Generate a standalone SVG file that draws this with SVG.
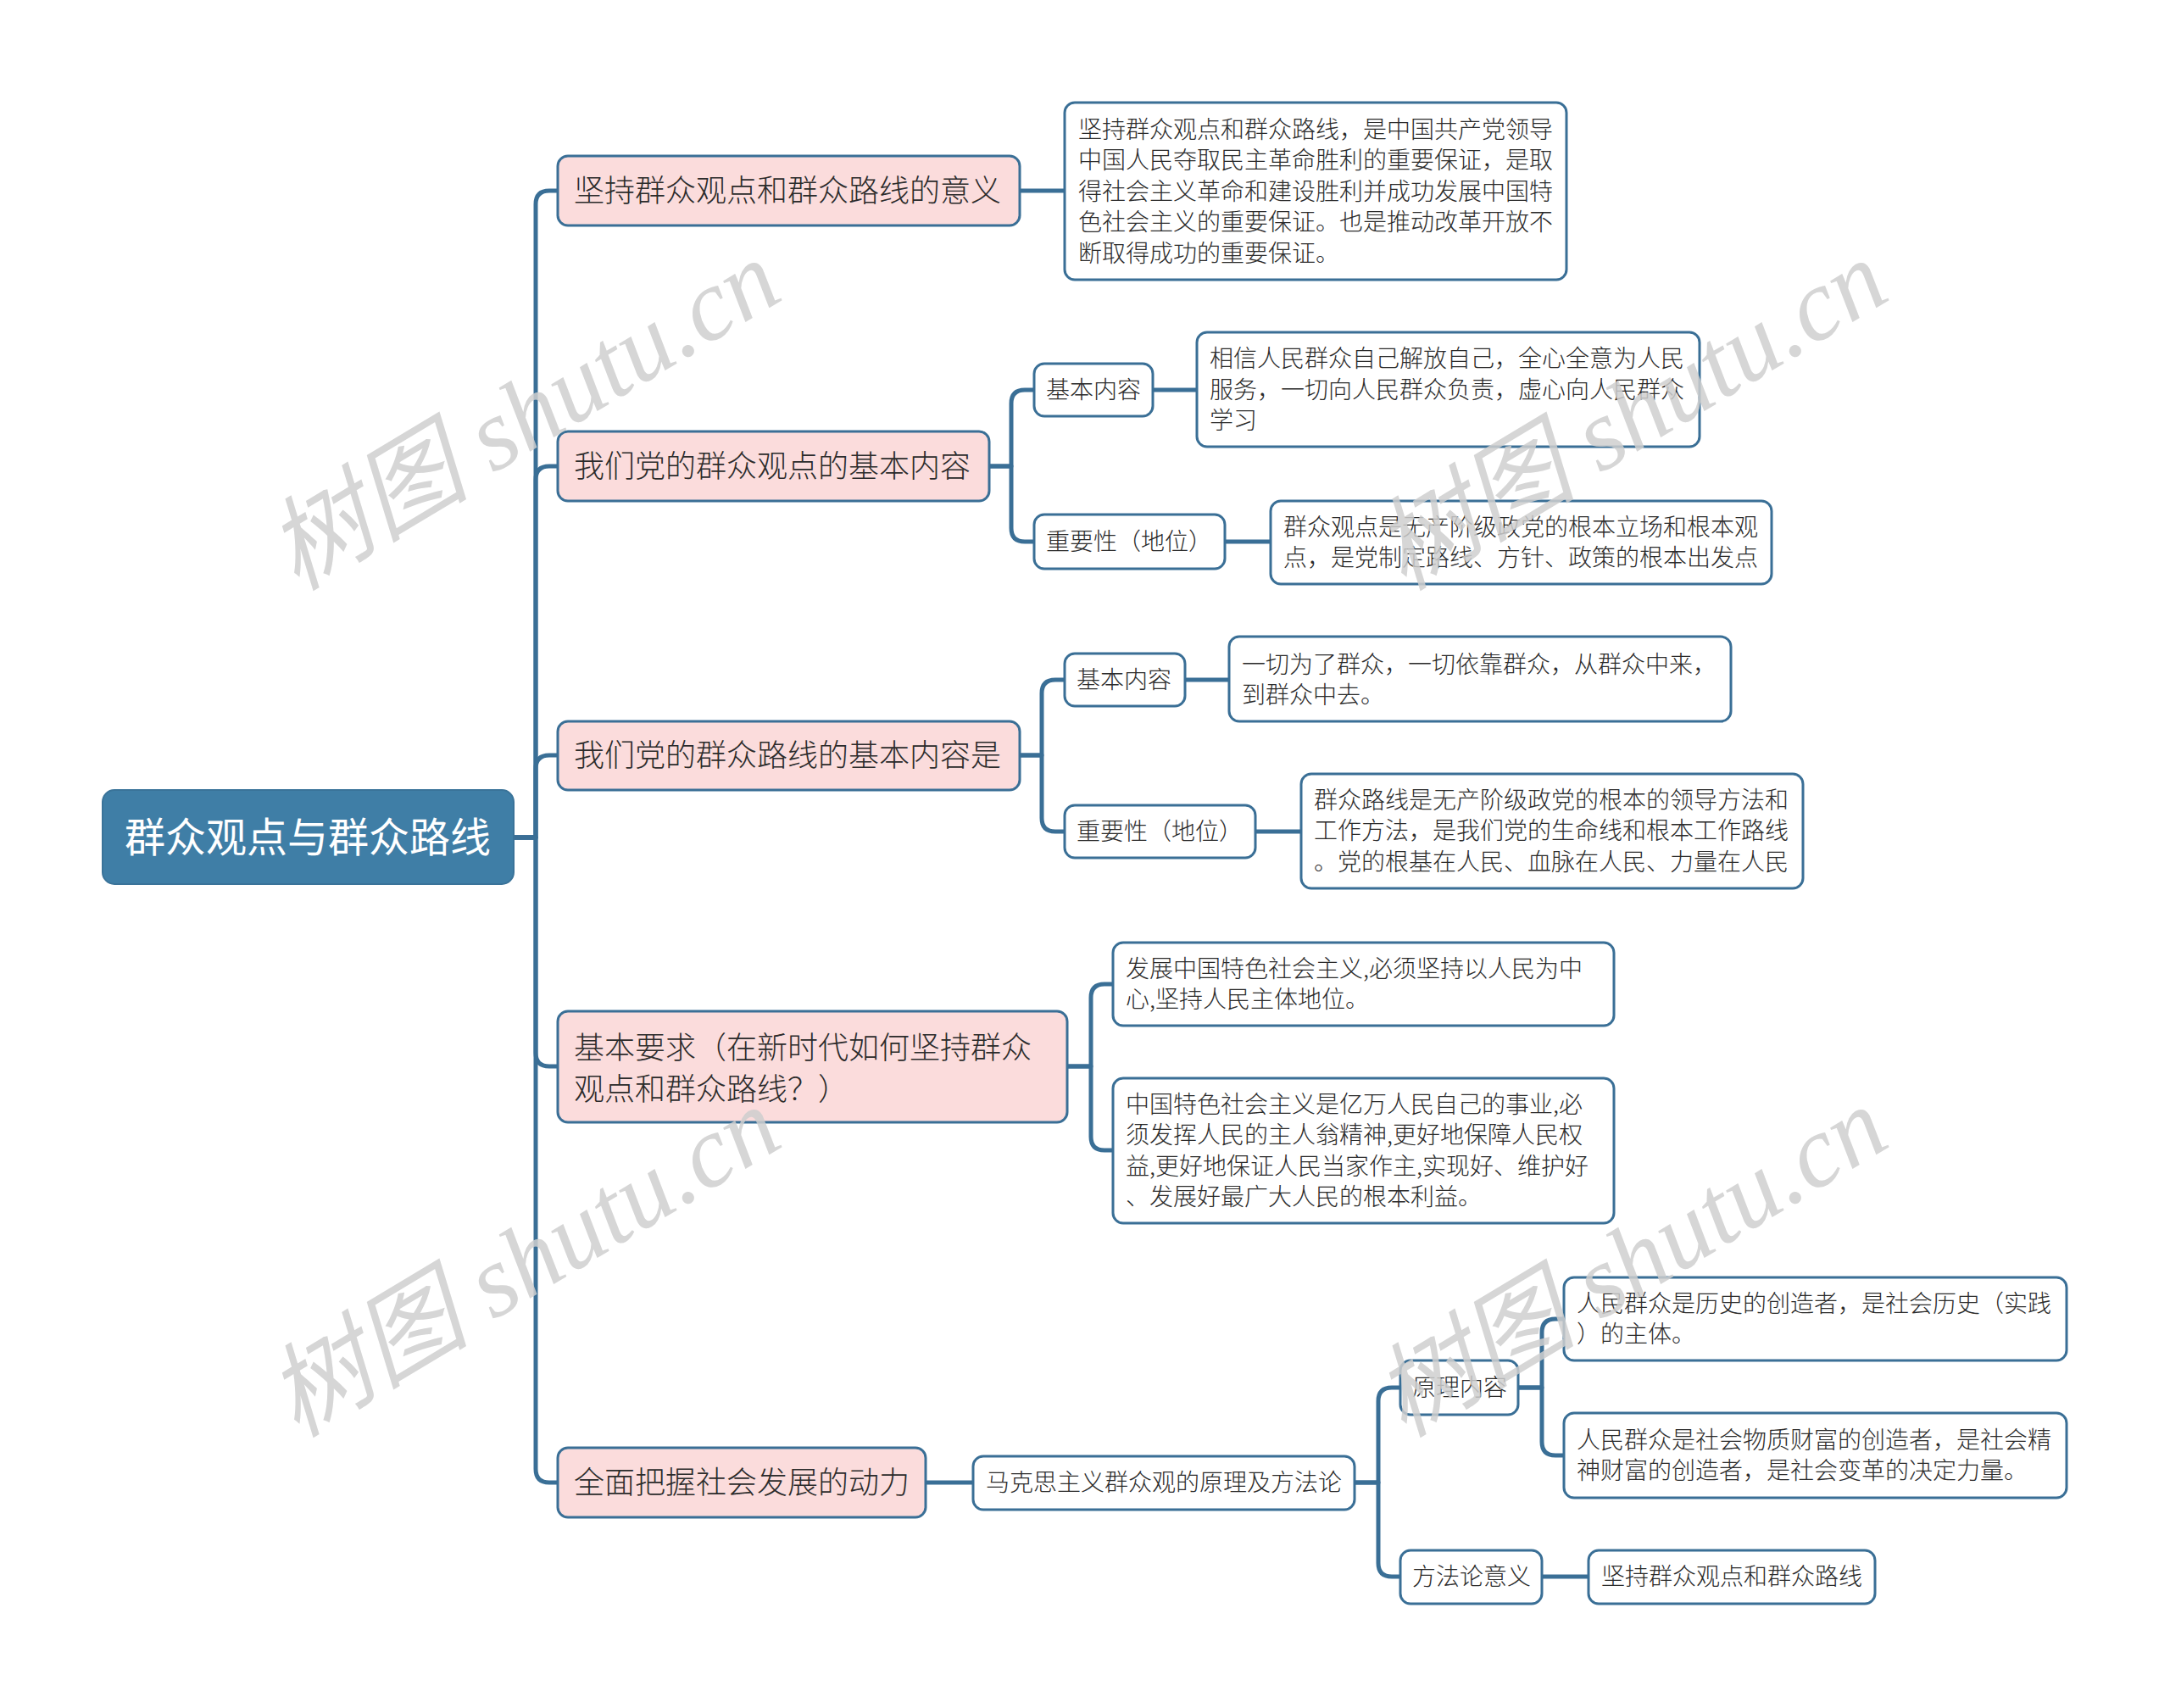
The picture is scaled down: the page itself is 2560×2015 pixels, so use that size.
<svg xmlns="http://www.w3.org/2000/svg" width="2560" height="2015" viewBox="0 0 2560 2015">
<style>
.t{font-family:"Noto Sans CJK SC","Liberation Sans",sans-serif;font-weight:300;fill:#2b2b2b}
.root{fill:#3f7ea6;stroke:#3a7399;stroke-width:2}
.rt{font-size:48px;fill:#ffffff;font-weight:400}
.l1{fill:#fbdcdc;stroke:#3a6f96;stroke-width:3}
.l1t{font-size:36px}
.bx{fill:#ffffff;stroke:#3a6f96;stroke-width:3}
.st{font-size:28px}
.c{fill:none;stroke:#3a6f96;stroke-width:5;stroke-linecap:round;stroke-linejoin:round}
.wm{font-family:"Liberation Serif","Noto Sans CJK SC",serif;font-style:italic;font-size:120px;fill:#cfcfcf;opacity:0.85}
</style>
<rect width="2560" height="2015" fill="#ffffff"/>
<g id="connectors">
<path class="c" d="M606 988 H632 V241 Q632 225 648 225 H658"/>
<path class="c" d="M606 988 H632 V566 Q632 550 648 550 H658"/>
<path class="c" d="M606 988 H632 V907 Q632 891 648 891 H658"/>
<path class="c" d="M606 988 H632 V1242 Q632 1258 648 1258 H658"/>
<path class="c" d="M606 988 H632 V1733 Q632 1749 648 1749 H658"/>
<path class="c" d="M1203 225 H1256"/>
<path class="c" d="M1167 550 H1193 V476 Q1193 460 1209 460 H1220"/>
<path class="c" d="M1167 550 H1193 V623 Q1193 639 1209 639 H1220"/>
<path class="c" d="M1360 460 H1412"/>
<path class="c" d="M1445 639 H1499"/>
<path class="c" d="M1203 891 H1229 V818 Q1229 802 1245 802 H1256"/>
<path class="c" d="M1203 891 H1229 V965 Q1229 981 1245 981 H1256"/>
<path class="c" d="M1398 802 H1450"/>
<path class="c" d="M1481 981 H1535"/>
<path class="c" d="M1259 1258 H1287 V1177 Q1287 1161 1303 1161 H1313"/>
<path class="c" d="M1259 1258 H1287 V1341 Q1287 1357 1303 1357 H1313"/>
<path class="c" d="M1092 1749 H1148"/>
<path class="c" d="M1598 1749 H1626 V1653 Q1626 1637 1642 1637 H1652"/>
<path class="c" d="M1598 1749 H1626 V1844 Q1626 1860 1642 1860 H1652"/>
<path class="c" d="M1791 1637 H1819 V1572 Q1819 1556 1835 1556 H1845"/>
<path class="c" d="M1791 1637 H1819 V1701 Q1819 1717 1835 1717 H1845"/>
<path class="c" d="M1819 1860 H1874"/>
</g>
<g id="root"><rect class="root" x="121" y="932" width="485" height="111" rx="14"/><text class="t rt" x="363" y="1005" text-anchor="middle">群众观点与群众路线</text></g>
<g id="n1"><rect class="l1" x="658" y="184" width="545" height="82" rx="12"/><text class="t l1t" x="677" y="238">坚持群众观点和群众路线的意义</text></g>
<g id="n1a"><rect class="bx" x="1256" y="121" width="592" height="209" rx="12"/><text class="t st"><tspan x="1272" y="163">坚持群众观点和群众路线，是中国共产党领导</tspan><tspan x="1272" y="199">中国人民夺取民主革命胜利的重要保证，是取</tspan><tspan x="1272" y="236">得社会主义革命和建设胜利并成功发展中国特</tspan><tspan x="1272" y="272">色社会主义的重要保证。也是推动改革开放不</tspan><tspan x="1272" y="309">断取得成功的重要保证。</tspan></text></g>
<g id="n2"><rect class="l1" x="658" y="509" width="509" height="82" rx="12"/><text class="t l1t" x="677" y="563">我们党的群众观点的基本内容</text></g>
<g id="n2a"><rect class="bx" x="1220" y="429" width="140" height="62" rx="12"/><text class="t st" x="1234" y="470">基本内容</text></g>
<g id="n2a1"><rect class="bx" x="1412" y="392" width="593" height="135" rx="12"/><text class="t st"><tspan x="1427" y="433">相信人民群众自己解放自己，全心全意为人民</tspan><tspan x="1427" y="470">服务，一切向人民群众负责，虚心向人民群众</tspan><tspan x="1427" y="506">学习</tspan></text></g>
<g id="n2b"><rect class="bx" x="1220" y="607" width="225" height="64" rx="12"/><text class="t st" x="1234" y="649">重要性（地位）</text></g>
<g id="n2b1"><rect class="bx" x="1499" y="591" width="591" height="98" rx="12"/><text class="t st"><tspan x="1514" y="632">群众观点是无产阶级政党的根本立场和根本观</tspan><tspan x="1514" y="668">点，是党制定路线、方针、政策的根本出发点</tspan></text></g>
<g id="n3"><rect class="l1" x="658" y="851" width="545" height="81" rx="12"/><text class="t l1t" x="677" y="904">我们党的群众路线的基本内容是</text></g>
<g id="n3a"><rect class="bx" x="1256" y="771" width="142" height="62" rx="12"/><text class="t st" x="1270" y="812">基本内容</text></g>
<g id="n3a1"><rect class="bx" x="1450" y="751" width="592" height="100" rx="12"/><text class="t st"><tspan x="1465" y="794">一切为了群众，一切依靠群众，从群众中来，</tspan><tspan x="1465" y="830">到群众中去。</tspan></text></g>
<g id="n3b"><rect class="bx" x="1256" y="950" width="225" height="62" rx="12"/><text class="t st" x="1270" y="991">重要性（地位）</text></g>
<g id="n3b1"><rect class="bx" x="1535" y="913" width="592" height="135" rx="12"/><text class="t st"><tspan x="1550" y="954">群众路线是无产阶级政党的根本的领导方法和</tspan><tspan x="1550" y="990">工作方法，是我们党的生命线和根本工作路线</tspan><tspan x="1550" y="1027">。党的根基在人民、血脉在人民、力量在人民</tspan></text></g>
<g id="n4"><rect class="l1" x="658" y="1193" width="601" height="131" rx="12"/><text class="t l1t"><tspan x="677" y="1249">基本要求（在新时代如何坚持群众</tspan><tspan x="677" y="1298">观点和群众路线？）</tspan></text></g>
<g id="n4a"><rect class="bx" x="1313" y="1112" width="591" height="98" rx="12"/><text class="t st"><tspan x="1328" y="1153">发展中国特色社会主义,必须坚持以人民为中</tspan><tspan x="1328" y="1189">心,坚持人民主体地位。</tspan></text></g>
<g id="n4b"><rect class="bx" x="1313" y="1272" width="591" height="171" rx="12"/><text class="t st"><tspan x="1328" y="1313">中国特色社会主义是亿万人民自己的事业,必</tspan><tspan x="1328" y="1349">须发挥人民的主人翁精神,更好地保障人民权</tspan><tspan x="1328" y="1386">益,更好地保证人民当家作主,实现好、维护好</tspan><tspan x="1328" y="1422">、发展好最广大人民的根本利益。</tspan></text></g>
<g id="n5"><rect class="l1" x="658" y="1708" width="434" height="82" rx="12"/><text class="t l1t" x="677" y="1762">全面把握社会发展的动力</text></g>
<g id="n5a"><rect class="bx" x="1148" y="1718" width="450" height="63" rx="12"/><text class="t st" x="1163" y="1759">马克思主义群众观的原理及方法论</text></g>
<g id="n5b"><rect class="bx" x="1652" y="1605" width="139" height="64" rx="12"/><text class="t st" x="1666" y="1647">原理内容</text></g>
<g id="n5b1"><rect class="bx" x="1845" y="1507" width="593" height="98" rx="12"/><text class="t st"><tspan x="1860" y="1548">人民群众是历史的创造者，是社会历史（实践</tspan><tspan x="1860" y="1584">）的主体。</tspan></text></g>
<g id="n5b2"><rect class="bx" x="1845" y="1667" width="593" height="100" rx="12"/><text class="t st"><tspan x="1860" y="1709">人民群众是社会物质财富的创造者，是社会精</tspan><tspan x="1860" y="1745">神财富的创造者，是社会变革的决定力量。</tspan></text></g>
<g id="n5c"><rect class="bx" x="1652" y="1829" width="167" height="63" rx="12"/><text class="t st" x="1666" y="1870">方法论意义</text></g>
<g id="n5c1"><rect class="bx" x="1874" y="1829" width="338" height="63" rx="12"/><text class="t st" x="1889" y="1870">坚持群众观点和群众路线</text></g>
<g id="watermarks">
<text class="wm" transform="translate(350 698) rotate(-31)">树图 shutu.cn</text>
<text class="wm" transform="translate(1656 698) rotate(-31)">树图 shutu.cn</text>
<text class="wm" transform="translate(350 1697) rotate(-31)">树图 shutu.cn</text>
<text class="wm" transform="translate(1656 1697) rotate(-31)">树图 shutu.cn</text>
</g>
</svg>
